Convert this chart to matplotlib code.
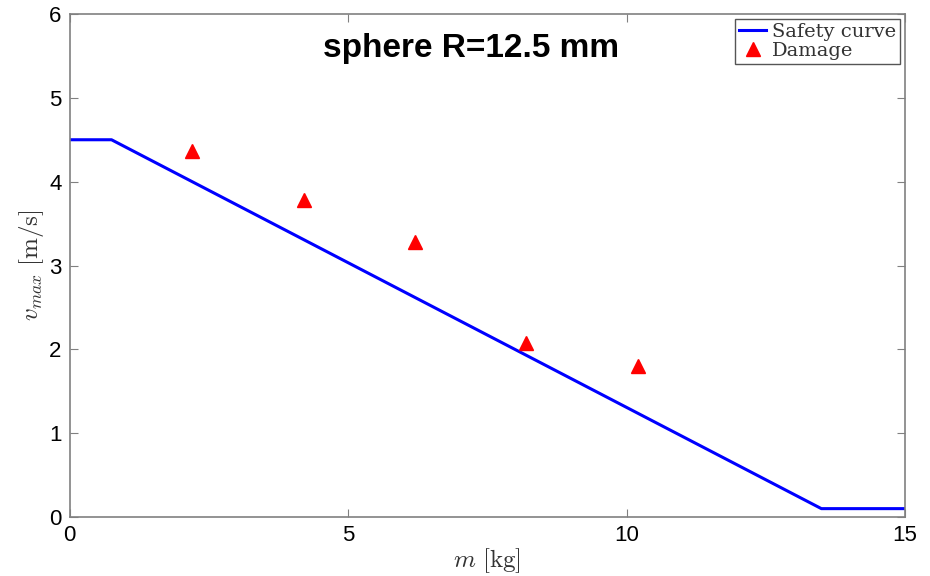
import matplotlib
matplotlib.use('Agg')
import matplotlib.pyplot as plt

# safety curve breakpoints
curve_m = [0, 0.75, 13.5, 15]
curve_v = [4.5, 4.5, 0.1, 0.1]

# damage observations
dmg_m = [2.2, 4.2, 6.2, 8.2, 10.2]
dmg_v = [4.37, 3.78, 3.28, 2.07, 1.8]

xticks = [0, 5, 10, 15]
yticks = [0, 1, 2, 3, 4, 5, 6]

plt.rcParams['mathtext.fontset'] = 'cm'

fig = plt.figure(figsize=(9.3, 5.76), dpi=100)
ax = fig.add_axes([0.075, 0.1024, 0.898, 0.8733])

ax.plot(curve_m, curve_v, color='#0000ff', lw=2.2, label='Safety curve')
ax.plot(dmg_m, dmg_v, ls='none', marker='^', ms=10, color='#ff0000', label='Damage')

ax.set_xlim(0, 15)
ax.set_ylim(0, 6)
ax.set_xticks(xticks)
ax.set_yticks(yticks)
ax.tick_params(direction='in', length=6, color='#808080', labelsize=16, pad=6,
               top=True, right=True)
for lab in ax.get_xticklabels() + ax.get_yticklabels():
    lab.set_family('Liberation Sans')
for s in ax.spines.values():
    s.set_color('#808080')
    s.set_linewidth(1.2)

ax.set_xlabel(r'$m\ \mathrm{[kg]}$', fontsize=18, color='#333333', labelpad=0)
ax.set_ylabel(r'$v_{max}\ \mathrm{[m/s]}$', fontsize=18, color='#333333', labelpad=2)

ax.text(0.481, 0.932, 'sphere R=12.5 mm', transform=ax.transAxes, ha='center', va='center',
        fontsize=24, fontweight='bold', family='Liberation Sans')

leg = ax.legend(loc='upper right', prop={'family': 'DejaVu Serif', 'size': 14},
                fancybox=False, framealpha=1, borderpad=0.2, handlelength=1.4,
                handletextpad=0.3, labelspacing=0.05, borderaxespad=0.25)
leg.get_frame().set_edgecolor('#555555')
leg.get_frame().set_linewidth(1.0)
for t in leg.get_texts():
    t.set_color('#333333')

fig.savefig('out.png', dpi=100)
